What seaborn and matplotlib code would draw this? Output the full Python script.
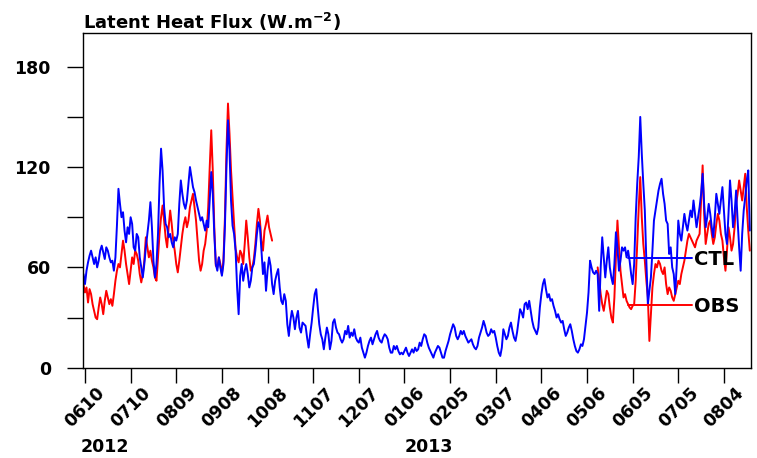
import numpy as np
import pandas as pd
import matplotlib
matplotlib.use("Agg")
import matplotlib.pyplot as plt
import matplotlib.dates as mdates
import matplotlib.transforms as mtransforms
from matplotlib.lines import Line2D
import seaborn as sns

# Daily latent heat flux (W m-2): model run (CTL) and station observations (OBS)
ctl_start = "2012-06-09"
ctl_flux = [
    56, 50, 58, 63, 67, 70, 66, 62, 66, 60,
    64, 70, 73, 69, 65, 72, 70, 66, 63, 64,
    58, 66, 85, 107, 98, 90, 93, 82, 75, 84,
    80, 90, 86, 72, 70, 80, 78, 66, 60, 54,
    62, 72, 80, 88, 99, 84, 64, 54, 62, 80,
    110, 131, 118, 96, 86, 84, 78, 80, 75, 72,
    78, 76, 80, 98, 112, 104, 98, 95, 100, 110,
    120, 114, 108, 105, 100, 96, 92, 88, 90, 86,
    82, 88, 84, 100, 117, 104, 80, 62, 58, 66,
    60, 55, 62, 85, 120, 148, 130, 100, 85, 80,
    70, 48, 32, 55, 62, 52, 58, 62, 56, 48,
    52, 60, 62, 70, 80, 87, 84, 70, 56, 63,
    46, 58, 66, 61, 50, 44, 52, 56, 59, 48,
    40, 38, 44, 40, 26, 19, 28, 34, 30, 23,
    30, 34, 24, 21, 27, 26, 25, 18, 12, 20,
    27, 36, 44, 47, 36, 26, 20, 17, 11, 18,
    24, 20, 11, 16, 27, 29, 24, 21, 20, 17,
    15, 17, 22, 20, 25, 18, 21, 19, 23, 18,
    16, 15, 18, 12, 9, 6, 9, 13, 16, 18,
    14, 17, 20, 22, 18, 16, 15, 18, 20, 19,
    17, 12, 9, 9, 13, 11, 13, 10, 8, 9,
    8, 10, 12, 9, 7, 9, 11, 9, 12, 10,
    11, 15, 13, 17, 20, 19, 15, 12, 10, 8,
    6, 9, 11, 13, 12, 9, 6, 6, 10, 13,
    16, 20, 23, 26, 24, 19, 17, 19, 22, 20,
    22, 19, 17, 15, 16, 17, 14, 12, 11, 13,
    18, 21, 24, 28, 25, 21, 19, 20, 23, 21,
    22, 18, 13, 9, 7, 12, 23, 20, 17, 19,
    24, 27, 22, 18, 16, 21, 28, 35, 33, 30,
    38, 39, 35, 40, 34, 28, 24, 22, 20, 24,
    36, 44, 50, 53, 47, 42, 44, 40, 41, 37,
    34, 30, 32, 29, 27, 28, 23, 19, 21, 24,
    26, 22, 17, 13, 10, 9, 11, 14, 13, 17,
    25, 33, 45, 64, 60, 57, 56, 58, 56, 34,
    60, 78, 66, 54, 64, 72, 60, 54, 50, 62,
    81, 72, 58, 64, 72, 70, 72, 66, 70, 64,
    56, 50, 62, 90, 110, 126, 150, 128, 110, 94,
    64, 38, 46, 54, 70, 88, 94, 100, 106, 110,
    113, 104, 98, 88, 86, 68, 72, 60, 56, 44,
    62, 88, 80, 76, 84, 92, 86, 82, 88, 94,
    90, 100, 92, 84, 90, 96, 104, 116, 98, 84,
    90, 98, 92, 84, 78, 90, 104, 98, 92, 100,
    108, 94, 80, 74, 92, 112, 100, 84, 92, 106,
    88, 72, 58, 80, 94, 102, 112, 118, 82,
]

obs_2012_start = "2012-06-09"
obs_2012_flux = [
    50, 45, 48, 39, 47, 44, 38, 34, 30, 29,
    36, 42, 38, 32, 40, 46, 42, 38, 41, 37,
    44, 52, 58, 62, 60, 68, 76, 70, 62, 56,
    50, 58, 66, 62, 70, 68, 64, 56, 51, 56,
    64, 78, 72, 66, 70, 64, 60, 54, 52, 66,
    80, 90, 97, 88, 78, 72, 84, 94, 86, 76,
    70, 62, 57, 64, 72, 80, 86, 90, 84, 88,
    96, 100, 104, 96, 88, 76, 64, 58, 62, 70,
    74, 82, 96, 120, 142, 118, 84, 61, 60, 66,
    62, 56, 64, 90, 130, 158, 140, 118, 102, 86,
    71, 66, 63, 70, 68, 62, 74, 88, 78, 66,
    58, 60, 65, 74, 86, 95, 88, 76, 70, 82,
    86, 91, 84, 80, 76,
]

obs_2013_start = "2013-05-13"
obs_2013_flux = [
    60, 52, 44, 38, 34, 40, 46, 44, 36, 30,
    27, 42, 66, 88, 72, 58, 50, 42, 44, 40,
    38, 36, 35, 37, 38, 52, 74, 96, 114, 90,
    74, 64, 52, 42, 16, 32, 48, 56, 62, 60,
    64, 62, 58, 56, 60, 50, 44, 48, 46, 42,
    40, 44, 48, 52, 50, 56, 60, 64, 70, 76,
    80, 78, 76, 74, 72, 76, 78, 80, 100, 121,
    92, 74, 80, 86, 88, 80, 74, 78, 86, 92,
    88, 80, 76, 66, 58, 70, 84, 78, 70, 74,
    84, 98, 104, 112, 106, 100, 108, 116, 96, 82,
    70,
]

tick_labels = ["0610", "0710", "0809", "0908", "1008", "1107", "1207", "0106",
               "0205", "0307", "0406", "0506", "0605", "0705", "0804"]
tick_first = "2012-06-10"
year_labels = ["2012", "2013"]
year_label_dates = ["2012-06-07", "2013-01-06"]

run_colors = {"CTL": "#0000ff", "OBS": "#ff0000"}


def daily_frame(run, segment, start, values):
    return pd.DataFrame({
        "date": pd.date_range(start, periods=len(values), freq="D"),
        "flux": np.asarray(values, dtype=float),
        "run": run,
        "segment": segment,
    })


df = pd.concat([
    daily_frame("OBS", "obs_2012", obs_2012_start, obs_2012_flux),
    daily_frame("OBS", "obs_2013", obs_2013_start, obs_2013_flux),
    daily_frame("CTL", "ctl", ctl_start, ctl_flux),
], ignore_index=True)

sns.set_style("ticks")
plt.rcParams["font.family"] = ["DejaVu Sans"]
plt.rcParams["mathtext.default"] = "bf"
plt.rcParams["text.color"] = "black"
plt.rcParams["axes.labelcolor"] = "black"
plt.rcParams["xtick.color"] = "black"
plt.rcParams["ytick.color"] = "black"

fig = plt.figure(figsize=(7.57, 4.58), dpi=100)
ax = fig.add_axes([0.10925, 0.19716, 0.88243, 0.73013])

sns.lineplot(data=df, x="date", y="flux", hue="run", hue_order=["OBS", "CTL"],
             units="segment", estimator=None, sort=False, palette=run_colors,
             linewidth=1.4, legend=False, ax=ax)

# axes limits and ticks
day0 = pd.Timestamp(tick_first)
ax.set_xlim(day0 - pd.Timedelta(days=1.5), day0 + pd.Timedelta(days=437.6))
ax.set_ylim(0, 200)

tick_font = dict(fontsize=12.5, fontweight="bold", color="black")
tick_dates = pd.date_range(tick_first, periods=len(tick_labels), freq="30D")
ax.set_xticks(tick_dates)
ax.set_xticklabels(tick_labels, rotation=45, ha="center", **tick_font)
shift = mtransforms.ScaledTranslation(5 / 100, 0, fig.dpi_scale_trans)
for lab in ax.get_xticklabels():
    lab.set_transform(lab.get_transform() + shift)

ax.set_yticks(np.arange(0, 181, 30))
ax.set_yticklabels([str(v) if v % 60 == 0 else "" for v in range(0, 181, 30)], **tick_font)

ax.tick_params(axis="x", direction="out", length=10.8, width=1.0, pad=1.0,
               top=False, colors="black")
ax.tick_params(axis="y", direction="out", length=11.5, width=1.0, pad=11.5,
               right=False, colors="black")
for side in ["left", "right", "top", "bottom"]:
    ax.spines[side].set_visible(True)
    ax.spines[side].set_linewidth(1.0)
    ax.spines[side].set_color("black")

ax.set_xlabel("")
ax.set_ylabel("")
ax.set_title(r"Latent Heat Flux (W.m$^{-2}$)", loc="left", fontsize=13,
             fontweight="bold", color="black", pad=1.5)

# year labels beneath the date ticks
trans = mtransforms.blended_transform_factory(ax.transData, ax.transAxes)
for txt, d in zip(year_labels, year_label_dates):
    ax.text(mdates.date2num(pd.Timestamp(d)), -0.236, txt, transform=trans,
            ha="left", va="center", clip_on=False, **tick_font)

handles = [Line2D([], [], color=run_colors["CTL"], lw=1.4),
           Line2D([], [], color=run_colors["OBS"], lw=1.4)]
leg = ax.legend(handles, ["CTL", "OBS"], loc="upper left", bbox_to_anchor=(0.816, 0.352),
                frameon=False, prop={"size": 14, "weight": "bold"}, handlelength=3.3,
                handletextpad=0.1, labelspacing=1.45, borderpad=0, borderaxespad=0)
for t in leg.get_texts():
    t.set_color("black")

fig.savefig("out.png", dpi=100)
